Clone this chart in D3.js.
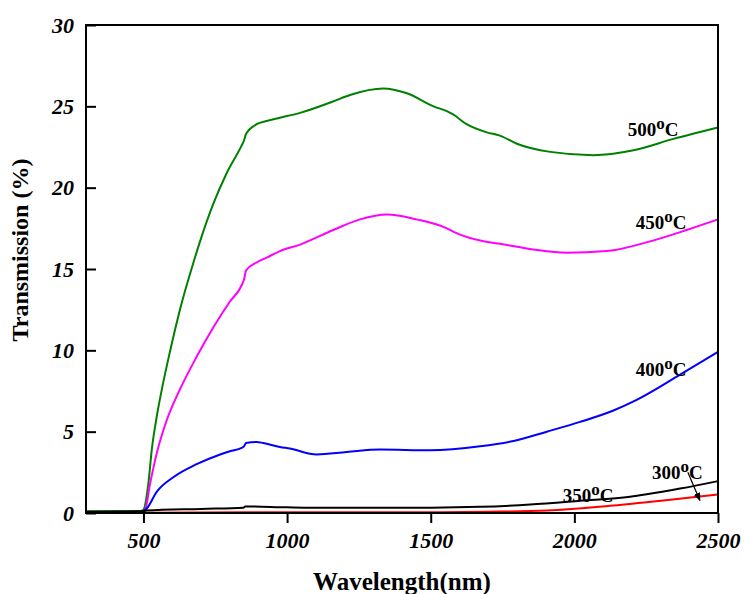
<!DOCTYPE html>
<html>
<head>
<meta charset="utf-8">
<script src="https://cdn.jsdelivr.net/npm/d3@7"></script>
<style>
  body { margin: 0; background: #fff; }
  svg text { font-family: "Liberation Serif", "Times New Roman", serif; }
</style>
</head>
<body>
<script>
// wavelength (nm) / transmission (%)
var wGreen = [300, 400, 490, 500, 517, 529, 546, 564, 592, 627, 674, 697, 743, 790, 842, 850, 857, 894, 929, 975, 1045, 1160, 1219, 1335, 1417, 1510, 1556, 1578, 1625, 1695, 1741, 1800, 1916, 2066, 2206, 2345, 2500];
var tGreen = [0.1, 0.1, 0.12, 0.2, 1.8, 3.9, 5.9, 7.6, 9.9, 12.5, 15.4, 16.7, 19.0, 20.9, 22.6, 22.9, 23.3, 23.9, 24.1, 24.3, 24.6, 25.3, 25.7, 26.1, 25.8, 25.0, 24.7, 24.5, 23.9, 23.4, 23.2, 22.7, 22.2, 22.0, 22.3, 23.0, 23.7];

var wMagenta = [493, 505, 523, 546, 581, 627, 685, 743, 801, 842, 850, 857, 894, 929, 975, 1045, 1161, 1254, 1347, 1451, 1556, 1578, 1684, 1741, 1857, 1974, 2113, 2264, 2391, 2500];
var tMagenta = [0.05, 0.15, 1.8, 3.65, 5.7, 7.6, 9.6, 11.4, 13.0, 14.0, 14.35, 14.9, 15.4, 15.7, 16.1, 16.5, 17.4, 18.05, 18.35, 18.05, 17.5, 17.3, 16.7, 16.55, 16.2, 16.0, 16.1, 16.7, 17.4, 18.05];

var wBlue = [493, 511, 546, 604, 685, 767, 801, 842, 850, 857, 894, 917, 975, 1010, 1103, 1208, 1324, 1498, 1672, 1788, 1904, 2020, 2136, 2217, 2368, 2500];
var tBlue = [0.05, 0.26, 1.3, 2.2, 3.0, 3.6, 3.8, 4.0, 4.1, 4.3, 4.37, 4.3, 4.06, 3.96, 3.6, 3.75, 3.9, 3.86, 4.1, 4.43, 5.0, 5.6, 6.3, 6.95, 8.5, 9.9];

var wBlack = [300, 490, 511, 700, 848, 854, 1000, 1150, 1500, 1672, 1846, 2020, 2194, 2252, 2368, 2500];
var tBlack = [0.08, 0.1, 0.15, 0.25, 0.32, 0.4, 0.35, 0.32, 0.33, 0.38, 0.52, 0.75, 1.0, 1.15, 1.5, 1.96];

var wRed = [500, 850, 1200, 1500, 1700, 1904, 2136, 2310, 2500];
var tRed = [0.02, 0.05, 0.05, 0.05, 0.08, 0.15, 0.46, 0.77, 1.14];

var xTicks = [500, 1000, 1500, 2000, 2500];
var yTicks = [0, 5, 10, 15, 20, 25, 30];

// label anchor points (start of text, baseline) in data units
var labelNames = ["500", "450", "400", "350", "300"];
var labelW = [2186, 2214, 2214, 1960, 2270];
var labelT = [23.2, 17.45, 8.4, 0.65, 2.12];

var series = [
  {w: wGreen, t: tGreen, color: "#008000"},
  {w: wMagenta, t: tMagenta, color: "#ff00ff"},
  {w: wBlue, t: tBlue, color: "#0000ff"},
  {w: wRed, t: tRed, color: "#ff0000"},
  {w: wBlack, t: tBlack, color: "#000000"}
];

var width = 744, height = 594;
var plotLeft = 86, plotRight = 718, plotTop = 25, plotBottom = 513;

var svg = d3.select("body").append("svg")
    .attr("width", width)
    .attr("height", height);

var x = d3.scaleLinear().domain([300, 2500]).range([plotLeft, plotRight]);
var y = d3.scaleLinear().domain([0, 30]).range([plotBottom, plotTop]);

var line = d3.line()
    .x(function(d) { return x(d[0]); })
    .y(function(d) { return y(d[1]); })
    .curve(d3.curveMonotoneX);

svg.selectAll(".curve")
    .data(series)
    .enter().append("path")
    .attr("class", "curve")
    .attr("fill", "none")
    .attr("stroke", function(s) { return s.color; })
    .attr("stroke-width", 2)
    .attr("d", function(s) { return line(d3.zip(s.w, s.t)); });

// axes
var xAx = svg.append("g")
    .attr("transform", "translate(0," + plotBottom + ")")
    .call(d3.axisBottom(x).tickValues(xTicks).tickSize(10).tickPadding(9).tickFormat(d3.format("d")));
var yAx = svg.append("g")
    .attr("transform", "translate(" + plotLeft + ",0)")
    .call(d3.axisLeft(y).tickValues(yTicks).tickSizeInner(-10).tickSizeOuter(0).tickPadding(12));

[xAx, yAx].forEach(function(ax) {
  ax.select(".domain").remove();
  ax.selectAll(".tick line").attr("stroke", "#000").attr("stroke-width", 2);
  ax.selectAll(".tick text")
    .attr("fill", "#000")
    .style("font-size", "22px")
    .style("font-weight", "bold")
    .style("font-style", "italic");
});

// frame
svg.append("rect")
    .attr("x", plotLeft).attr("y", plotTop)
    .attr("width", plotRight - plotLeft).attr("height", plotBottom - plotTop)
    .attr("fill", "none")
    .attr("stroke", "#000")
    .attr("stroke-width", 2);

// axis titles
svg.append("text")
    .attr("x", 402)
    .attr("y", 590)
    .attr("text-anchor", "middle")
    .style("font-size", "25px")
    .style("font-weight", "bold")
    .text("Wavelength(nm)");

svg.append("text")
    .attr("transform", "translate(28,250) rotate(-90)")
    .attr("text-anchor", "middle")
    .style("font-size", "24px")
    .style("font-weight", "bold")
    .text("Transmission (%)");

// curve labels
labelNames.forEach(function(name, i) {
  var t = svg.append("text")
      .attr("x", x(labelW[i]))
      .attr("y", y(labelT[i]))
      .style("font-size", "19px")
      .style("font-weight", "bold");
  t.append("tspan").text(name);
  t.append("tspan").attr("dy", -7).style("font-size", "17px").text("o");
  t.append("tspan").attr("dy", 7).text("C");
});

// arrow from 300 label to red curve
svg.append("defs").append("marker")
    .attr("id", "arrow")
    .attr("viewBox", "0 0 10 10")
    .attr("refX", 9).attr("refY", 5)
    .attr("markerWidth", 7).attr("markerHeight", 7)
    .attr("orient", "auto")
  .append("path")
    .attr("d", "M0,1L10,5L0,9Z")
    .attr("fill", "#000");

svg.append("line")
    .attr("x1", x(2395)).attr("y1", y(2.5))
    .attr("x2", x(2437)).attr("y2", y(0.77))
    .attr("stroke", "#000")
    .attr("stroke-width", 1.2)
    .attr("marker-end", "url(#arrow)");
</script>
</body>
</html>
